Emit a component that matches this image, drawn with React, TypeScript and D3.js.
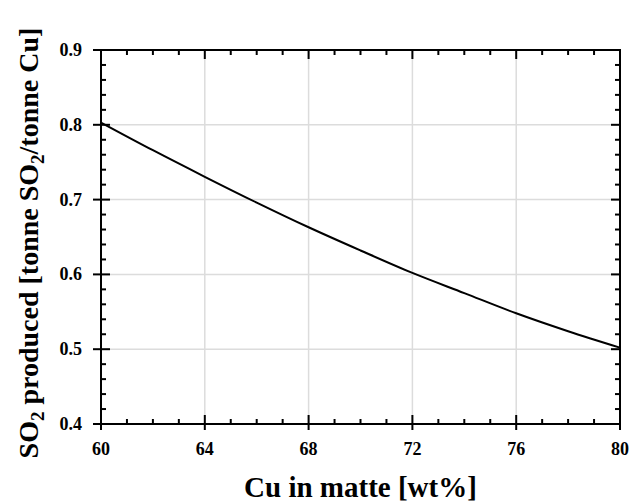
import React, { useEffect, useRef } from "react";
import * as d3 from "d3";

const cuInMatte = [60, 62, 64, 66, 68, 70, 72, 74, 76, 78, 80];
const so2Produced = [0.803, 0.766, 0.7305, 0.696, 0.663, 0.632, 0.602, 0.575, 0.548, 0.524, 0.502];
const xTicks = [60, 64, 68, 72, 76, 80];
const yTicks = [0.4, 0.5, 0.6, 0.7, 0.8, 0.9];

const W = 630;
const H = 503;
const M = { left: 101, right: 620, top: 50, bottom: 424 };
const FONT = "'Liberation Serif', 'Times New Roman', serif";

export default function App() {
  const ref = useRef<SVGSVGElement>(null);

  useEffect(() => {
    const svg = d3.select(ref.current);
    svg.selectAll("*").remove();
    const x = d3.scaleLinear().domain([60, 80]).range([M.left, M.right]);
    const y = d3.scaleLinear().domain([0.4, 0.9]).range([M.bottom, M.top]);

    const grid = svg.append("g");
    xTicks.forEach((t) => {
      grid.append("line").attr("x1", x(t)).attr("x2", x(t)).attr("y1", M.top).attr("y2", M.bottom)
        .attr("stroke", "#dcdcdc").attr("stroke-width", 1.5);
    });
    yTicks.forEach((t) => {
      grid.append("line").attr("x1", M.left).attr("x2", M.right).attr("y1", y(t)).attr("y2", y(t))
        .attr("stroke", "#dcdcdc").attr("stroke-width", 1.5);
    });

    const line = d3.line<number>().x((_, i) => x(cuInMatte[i])).y((d) => y(d)).curve(d3.curveMonotoneX);
    svg.append("path").attr("d", line(so2Produced) || "").attr("fill", "none")
      .attr("stroke", "#000").attr("stroke-width", 2);

    const ax = svg.append("g").attr("stroke", "#000").attr("stroke-width", 2);
    ax.append("rect").attr("x", M.left).attr("y", M.top).attr("width", M.right - M.left)
      .attr("height", M.bottom - M.top).attr("fill", "none");

    const xMinor = d3.range(60, 80.001, 1);
    xMinor.forEach((t) => {
      const major = xTicks.includes(t);
      const xi = x(t);
      ax.append("line").attr("x1", xi).attr("x2", xi)
        .attr("y1", M.bottom + (major ? 6 : 0)).attr("y2", M.bottom - (major ? 9 : 5));
      ax.append("line").attr("x1", xi).attr("x2", xi)
        .attr("y1", M.top).attr("y2", M.top + (major ? 9 : 5));
    });
    const yMinor = d3.range(0, 26).map((i) => 0.4 + i * 0.02);
    yMinor.forEach((t, i) => {
      const major = i % 5 === 0;
      const yi = y(t);
      ax.append("line").attr("x1", M.left - (major ? 8 : 0)).attr("x2", M.left + (major ? 9 : 5))
        .attr("y1", yi).attr("y2", yi);
      ax.append("line").attr("x1", M.right).attr("x2", M.right - (major ? 9 : 5))
        .attr("y1", yi).attr("y2", yi);
    });

    const labels = svg.append("g").attr("font-family", FONT).attr("font-weight", "bold").attr("fill", "#000");
    xTicks.forEach((t) => {
      labels.append("text").attr("x", x(t)).attr("y", 455).attr("text-anchor", "middle")
        .attr("font-size", 18).text(String(t));
    });
    yTicks.forEach((t) => {
      labels.append("text").attr("x", 82).attr("y", y(t) + 6).attr("text-anchor", "end")
        .attr("font-size", 18).text(t.toFixed(1));
    });

    labels.append("text").attr("x", (M.left + M.right) / 2).attr("y", 497).attr("text-anchor", "middle")
      .attr("font-size", 29).text("Cu in matte [wt%]");

    const yl = labels.append("text").attr("transform", `translate(38, 243) rotate(-90)`)
      .attr("text-anchor", "middle").attr("font-size", 28);
    yl.append("tspan").text("SO");
    yl.append("tspan").attr("font-size", 19).attr("dy", 6).text("2");
    yl.append("tspan").attr("dy", -6).text(" produced [tonne SO");
    yl.append("tspan").attr("font-size", 19).attr("dy", 6).text("2");
    yl.append("tspan").attr("dy", -6).text("/tonne Cu]");
  }, []);

  return (
    <svg ref={ref} width={W} height={H}
      style={{ position: "absolute", left: 0, top: 0, background: "#fff" }} />
  );
}
